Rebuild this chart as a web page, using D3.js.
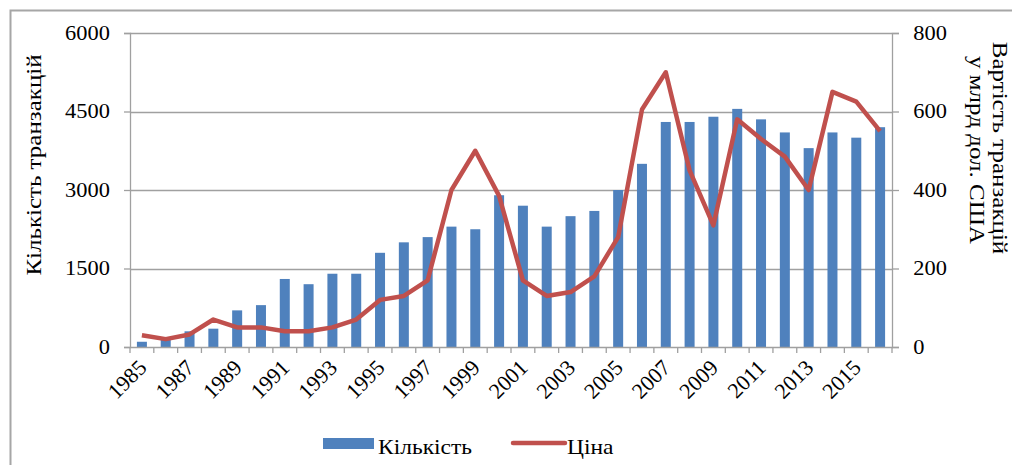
<!DOCTYPE html>
<html>
<head>
<meta charset="utf-8">
<script src="https://cdn.jsdelivr.net/npm/d3@7"></script>
<style>
  body { margin: 0; background: #fff; }
  svg text { font-family: "Liberation Serif", "Times New Roman", "DejaVu Serif", serif !important; fill: #000; }
</style>
</head>
<body>
<svg></svg>
<script>
var width = 1012;
var height = 465;

// data
var years = d3.range(1985, 2017);
var counts = [100, 150, 300, 350, 700, 800, 1300, 1200, 1400, 1400,
              1800, 2000, 2100, 2300, 2250, 2900, 2700, 2300, 2500, 2600,
              3000, 3500, 4300, 4300, 4400, 4550, 4350, 4100, 3800, 4100,
              4000, 4200];
var prices = [30, 20, 32, 70, 50, 50, 40, 40, 50, 70,
              120, 130, 170, 400, 500, 385, 170, 130, 140, 180,
              280, 605, 700, 450, 310, 580, 530, 485, 400, 650,
              625, 550];
var leftTicks = [0, 1500, 3000, 4500, 6000];
var rightTicks = [0, 200, 400, 600, 800];

var svg = d3.select('svg')
            .attr('width', width)
            .attr('height', height);

var margin = {left: 130, right: 892, top: 33, bottom: 347};
var stretch = 1.12;  // the picture's text is a bit wide

// outer frame
svg.append('rect')
   .attr('x', 10.5).attr('y', 10.5)
   .attr('width', 1010).attr('height', 460)
   .attr('fill', 'none')
   .attr('stroke', '#a6a6a6')
   .attr('stroke-width', 2);

var x = d3.scaleBand()
          .domain(years)
          .range([margin.left, margin.right]);

var yLeft = d3.scaleLinear()
              .domain([0, 6000])
              .range([margin.bottom, margin.top]);

var yRight = d3.scaleLinear()
               .domain([0, 800])
               .range([margin.bottom, margin.top]);

// gridlines
svg.append('g')
   .selectAll('line')
   .data(leftTicks.slice(1))
   .enter()
   .append('line')
   .attr('x1', margin.left).attr('x2', margin.right)
   .attr('y1', d => Math.round(yLeft(d)) + 0.5)
   .attr('y2', d => Math.round(yLeft(d)) + 0.5)
   .attr('stroke', '#a0a0a0')
   .attr('stroke-width', 1.3);

// bars
var barW = 10;
svg.append('g')
   .selectAll('rect')
   .data(counts)
   .enter()
   .append('rect')
   .attr('x', (d, i) => x(years[i]) + x.bandwidth() / 2 - barW / 2)
   .attr('y', d => yLeft(d))
   .attr('width', barW)
   .attr('height', d => yLeft(0) - yLeft(d))
   .attr('fill', '#4f81bd');

// left axis
var gl = svg.append('g')
            .attr('transform', 'translate(' + margin.left + ',0)')
            .call(d3.axisLeft(yLeft).tickValues(leftTicks).tickFormat(d3.format('d')).tickSize(6).tickPadding(12));
gl.selectAll('text').style('font-size', '20px').attr('transform', 'scale(' + stretch + ',1)');

// right axis
var gr = svg.append('g')
            .attr('transform', 'translate(' + margin.right + ',0)')
            .call(d3.axisRight(yRight).tickValues(rightTicks).tickFormat(d3.format('d')).tickSize(7).tickPadding(12));
gr.selectAll('text').style('font-size', '20px').attr('transform', 'scale(' + stretch + ',1)');

// x axis
var gx = svg.append('g')
            .attr('transform', 'translate(0,' + margin.bottom + ')')
            .call(d3.axisBottom(x).tickSize(0).tickFormat(''));
gx.selectAll('.tick').remove();

svg.append('g')
   .selectAll('line')
   .data(years.concat([2017]))
   .enter()
   .append('line')
   .attr('x1', d => d === 2017 ? margin.right : x(d))
   .attr('x2', d => d === 2017 ? margin.right : x(d))
   .attr('y1', margin.bottom)
   .attr('y2', margin.bottom + 6)
   .attr('stroke', '#a0a0a0')
   .attr('stroke-width', 1.3);

svg.append('g')
   .selectAll('text')
   .data(years.filter(d => d % 2 === 1))
   .enter()
   .append('text')
   .attr('transform', d => 'translate(' + (x(d) + x.bandwidth() / 2 + 6) + ',' + (margin.bottom + 22) + ') rotate(-45)')
   .attr('text-anchor', 'end')
   .style('font-size', '22px')
   .text(d => d);

[gl, gr, gx].forEach(function(g) {
  g.select('.domain').attr('stroke', '#a0a0a0').attr('stroke-width', 1.3);
  g.selectAll('.tick line').attr('stroke', '#a0a0a0').attr('stroke-width', 1.3);
});

// price line
var line = d3.line()
             .x((d, i) => x(years[i]) + x.bandwidth() / 2)
             .y(d => yRight(d));

svg.append('path')
   .datum(prices)
   .attr('d', line)
   .attr('fill', 'none')
   .attr('stroke', '#c0504d')
   .attr('stroke-width', 4.5)
   .attr('stroke-linejoin', 'round');

// axis titles
svg.append('text')
   .attr('transform', 'translate(41,165) rotate(-90) scale(1,0.85)')
   .attr('text-anchor', 'middle')
   .style('font-size', '25px')
   .text('Кількість  транзакцій');

svg.append('text')
   .attr('transform', 'translate(993,148) rotate(90) scale(1,0.85)')
   .attr('text-anchor', 'middle')
   .style('font-size', '25px')
   .text('Вартість  транзакцій');

svg.append('text')
   .attr('transform', 'translate(970,150) rotate(90) scale(1,0.85)')
   .attr('text-anchor', 'middle')
   .style('font-size', '25px')
   .text('у млрд  дол. США');

// legend
svg.append('rect')
   .attr('x', 323).attr('y', 438)
   .attr('width', 51).attr('height', 11)
   .attr('fill', '#4f81bd');
svg.append('text')
   .attr('transform', 'translate(378,454) scale(' + stretch + ',1)')
   .style('font-size', '21px')
   .text('Кількість');

svg.append('line')
   .attr('x1', 513).attr('x2', 565)
   .attr('y1', 443).attr('y2', 443)
   .attr('stroke', '#c0504d')
   .attr('stroke-width', 4.5)
   .attr('stroke-linecap', 'round');
svg.append('text')
   .attr('transform', 'translate(567,454) scale(' + stretch + ',1)')
   .style('font-size', '21px')
   .text('Ціна');
</script>
</body>
</html>
